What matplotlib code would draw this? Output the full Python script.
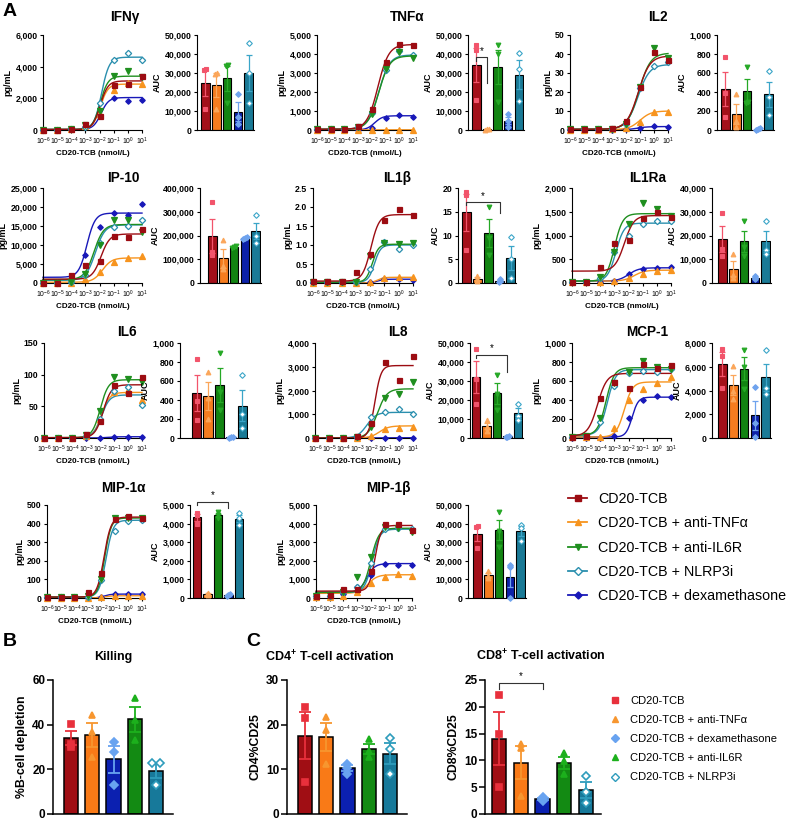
import numpy as np
import matplotlib
matplotlib.use("Agg")
from matplotlib import pyplot as plt
from matplotlib.lines import Line2D
from matplotlib.ticker import FuncFormatter, MultipleLocator, NullLocator

plt.rcParams['font.family'] = ['Liberation Sans', 'DejaVu Sans']
plt.rcParams['mathtext.fontset'] = 'custom'
plt.rcParams['mathtext.rm'] = 'Liberation Sans'
plt.rcParams['mathtext.bf'] = 'Liberation Sans:bold'

W, H = 792, 824

CONC = [1e-6, 1e-5, 1e-4, 1e-3, 1e-2, 1e-1, 1e0, 1e1]
CONC_LABELS = [r'$10^{-6}$', r'$10^{-5}$', r'$10^{-4}$', r'$10^{-3}$',
               r'$10^{-2}$', r'$10^{-1}$', r'$10^{0}$', r'$10^{1}$']

LABELS = {
    "tcb": "CD20-TCB",
    "tnf": "CD20-TCB + anti-TNFα",
    "il6r": "CD20-TCB + anti-IL6R",
    "nlrp3": "CD20-TCB + NLRP3i",
    "dex": "CD20-TCB + dexamethasone",
}
LEGEND_A_ORDER = ["tcb", "tnf", "il6r", "nlrp3", "dex"]
DRAW_ORDER = ["dex", "tnf", "nlrp3", "il6r", "tcb"]
BAR_ORDER_A = ["tcb", "tnf", "il6r", "dex", "nlrp3"]
BAR_ORDER_BC = ["tcb", "tnf", "dex", "il6r", "nlrp3"]
LEGEND_C_ORDER = ["tcb", "tnf", "dex", "il6r", "nlrp3"]

# mean cytokine level per concentration (pg/mL)
IFNG_PTS = {"tcb": [30, 30, 50, 400, 900, 2850, 2900, 3400],
            "tnf": [30, 30, 40, 250, 1000, 2500, 2950, 2900],
            "il6r": [30, 30, 50, 300, 1200, 3400, 3750, 3350],
            "nlrp3": [30, 30, 50, 200, 1700, 4400, 4850, 4400],
            "dex": [30, 30, 40, 200, 900, 2050, 1850, 1900]}
TNF_PTS = {"tcb": [40, 40, 40, 200, 1100, 3600, 4550, 4450],
           "tnf": [0, 0, 0, 0, 10, 10, 10, 10],
           "il6r": [40, 40, 40, 150, 850, 3200, 4100, 3800],
           "nlrp3": [40, 40, 40, 150, 900, 3150, 4150, 3950],
           "dex": [0, 0, 0, 0, 100, 650, 800, 700]}
IL2_PTS = {"tcb": [0.3, 0.3, 0.3, 0.8, 4.5, 22.5, 41, 37],
           "tnf": [0.2, 0.2, 0.2, 0.3, 0.8, 4, 9.5, 9.5],
           "il6r": [0.3, 0.3, 0.3, 0.6, 3, 22.5, 43, 38],
           "nlrp3": [0.3, 0.3, 0.3, 0.5, 3, 22, 33.5, 36],
           "dex": [0.1, 0.1, 0.1, 0.1, 0.3, 1.2, 2, 1.5]}
IP10_PTS = {"tcb": [0, 0, 2000, 4700, 5700, 12300, 12100, 14200],
            "tnf": [0, 0, 0, 1100, 2900, 5600, 6500, 7000],
            "il6r": [0, 0, 300, 2500, 10000, 16600, 16600, 13500],
            "nlrp3": [0, 0, 300, 2000, 10500, 14700, 15000, 16600],
            "dex": [0, 0, 300, 7300, 14800, 18500, 17900, 20900]}
IL1B_PTS = {"tcb": [0.05, 0.05, 0.05, 0.3, 0.76, 1.67, 1.95, 1.78],
            "tnf": [0, 0, 0, 0, 0.02, 0.12, 0.15, 0.15],
            "il6r": [0.02, 0.02, 0.02, 0.03, 0.7, 1.05, 1.03, 1.05],
            "nlrp3": [0.02, 0.02, 0.02, 0.02, 0.38, 1.07, 0.9, 1.0],
            "dex": [0, 0, 0, 0, 0.02, 0.1, 0.1, 0.08]}
IL1RA_PTS = {"tcb": [30, 30, 330, 850, 910, 1370, 1500, 1400],
             "tnf": [30, 30, 30, 40, 100, 180, 250, 280],
             "il6r": [30, 30, 120, 650, 1250, 1680, 1550, 1420],
             "nlrp3": [30, 30, 100, 660, 990, 1250, 1300, 1300],
             "dex": [30, 30, 30, 50, 200, 300, 310, 340]}
IL6_PTS = {"tcb": [0.5, 0.5, 0.5, 7, 27, 83, 71, 97],
           "tnf": [0.5, 0.5, 0.5, 3, 30, 72, 76, 60],
           "il6r": [0.5, 0.5, 0.5, 5, 42, 97, 93, 88],
           "nlrp3": [0.5, 0.5, 0.5, 3, 30, 75, 80, 52],
           "dex": [0, 0, 0, 0, 0, 2, 2, 2]}
IL8_PTS = {"tcb": [0, 0, 0, 100, 650, 3200, 2450, 3450],
           "tnf": [0, 0, 0, 0, 100, 400, 440, 480],
           "il6r": [0, 0, 0, 50, 450, 1700, 1850, 2350],
           "nlrp3": [0, 0, 0, 30, 880, 1100, 1230, 1000],
           "dex": [0, 0, 0, 0, 10, 10, 10, 10]}
MCP1_PTS = {"tcb": [10, 20, 420, 590, 525, 780, 740, 770],
            "tnf": [10, 10, 10, 110, 400, 520, 580, 640],
            "il6r": [10, 20, 210, 580, 690, 810, 745, 730],
            "nlrp3": [10, 20, 170, 550, 680, 705, 700, 730],
            "dex": [5, 5, 5, 20, 210, 400, 440, 430]}
MIP1A_PTS = {"tcb": [3, 3, 3, 30, 135, 425, 440, 430],
             "tnf": [0, 0, 0, 0, 5, 10, 12, 12],
             "il6r": [3, 3, 3, 10, 100, 430, 430, 430],
             "nlrp3": [3, 3, 3, 5, 95, 360, 415, 420],
             "dex": [0, 0, 0, 0, 5, 22, 20, 20]}
MIP1B_PTS = {"tcb": [100, 150, 500, 500, 1450, 4000, 4000, 3650],
             "tnf": [50, 50, 100, 300, 800, 1150, 1280, 1200],
             "il6r": [100, 150, 300, 1150, 2200, 3800, 3750, 3550],
             "nlrp3": [100, 100, 300, 600, 1900, 3700, 3750, 3700],
             "dex": [100, 100, 200, 600, 1250, 1850, 1800, 1800]}

# 4PL fit: (bottom, top, logEC50, hill)
IFNG_FIT = {"tcb": (30, 3100, -1.95, 1.6), "tnf": (30, 2900, -1.95, 1.6),
            "il6r": (30, 3400, -1.95, 1.6), "nlrp3": (30, 4600, -1.86, 1.6),
            "dex": (30, 2050, -1.9, 1.6)}
TNF_FIT = {"tcb": (40, 4500, -1.56, 1.1), "tnf": (0, 10, -2.0, 1.0),
           "il6r": (40, 3900, -1.5, 1.1), "nlrp3": (40, 3950, -1.5, 1.1),
           "dex": (0, 750, -1.8, 1.5)}
IL2_FIT = {"tcb": (0.4, 39, -1.13, 1.05), "tnf": (0.2, 10, -1.0, 1.1),
           "il6r": (0.4, 40.5, -1.08, 1.05), "nlrp3": (0.4, 34.5, -1.15, 1.05),
           "dex": (0.1, 1.8, -1.2, 1.2)}
IP10_FIT = {"tcb": (1000, 12900, -1.9, 1.4), "tnf": (200, 6600, -1.8, 1.3),
            "il6r": (900, 15400, -2.4, 1.3), "nlrp3": (700, 15300, -2.3, 1.3),
            "dex": (1500, 18400, -2.9, 1.5)}
IL1B_FIT = {"tcb": (0.05, 1.8, -1.95, 1.5), "tnf": (0.0, 0.15, -1.5, 2.0),
            "il6r": (0.02, 1.02, -1.85, 2.0), "nlrp3": (0.02, 1.0, -1.7, 2.0),
            "dex": (0.0, 0.1, -1.5, 2.0)}
IL1RA_FIT = {"tcb": (250, 1420, -2.3, 1.3), "tnf": (40, 270, -1.6, 1.2),
             "il6r": (40, 1460, -3.0, 1.5), "nlrp3": (40, 1260, -2.9, 1.5),
             "dex": (40, 320, -2.0, 1.2)}
IL6_FIT = {"tcb": (0.5, 84, -1.77, 1.5), "tnf": (0.5, 72, -1.9, 1.5),
           "il6r": (0.5, 92, -1.98, 1.5), "nlrp3": (0.5, 68, -1.9, 1.5),
           "dex": (0, 2, -1.5, 1.5)}
IL8_FIT = {"tcb": (0, 3050, -1.72, 2.0), "tnf": (0, 510, -1.4, 1.3),
           "il6r": (0, 2070, -1.55, 1.3), "nlrp3": (0, 1080, -2.3, 1.3),
           "dex": (0, 10, -1.5, 1.3)}
MCP1_FIT = {"tcb": (20, 680, -4.2, 1.3), "tnf": (10, 590, -2.3, 1.5),
            "il6r": (30, 740, -3.6, 1.5), "nlrp3": (30, 720, -3.5, 1.5),
            "dex": (10, 430, -1.75, 2.0)}
MIP1A_FIT = {"tcb": (5, 435, -1.8, 1.7), "tnf": (0, 12, -1.8, 1.5),
             "il6r": (5, 430, -1.75, 1.8), "nlrp3": (5, 418, -1.65, 1.7),
             "dex": (0, 21, -1.8, 1.8)}
MIP1B_FIT = {"tcb": (370, 3900, -1.7, 2.0), "tnf": (250, 1250, -2.2, 1.3),
             "il6r": (300, 3750, -2.0, 1.5), "nlrp3": (300, 3700, -1.9, 1.6),
             "dex": (300, 1850, -2.3, 1.5)}

# AUC per donor (n=3)
IFNG_AUC = {"tcb": [32000, 31500, 11000], "tnf": [30000, 29500, 11000],
            "il6r": [34000, 33500, 14000], "dex": [19000, 7000, 3200],
            "nlrp3": [46000, 30000, 14000]}
TNF_AUC = {"tcb": [44500, 42000, 16000], "tnf": [300, 200, 400],
           "il6r": [44500, 40000, 15000], "dex": [8500, 5000, 1500],
           "nlrp3": [40400, 32000, 15200]}
IL2_AUC = {"tcb": [770, 388, 138], "tnf": [380, 100, 30],
           "il6r": [660, 290, 280], "dex": [25, 15, 5],
           "nlrp3": [620, 350, 160]}
IP10_AUC = {"tcb": [341000, 130000, 119000], "tnf": [180000, 70000, 60000],
            "il6r": [155000, 152000, 149000], "dex": [193000, 190000, 187000],
            "nlrp3": [288000, 200000, 169000]}
IL1B_AUC = {"tcb": [19.1, 18.5, 7.0], "tnf": [1.5, 0.8, 0.4],
            "il6r": [16, 9.5, 6], "dex": [0.9, 0.4, 0.2],
            "nlrp3": [9.6, 5, 1]}
IL1RA_AUC = {"tcb": [29500, 14500, 11500], "tnf": [12300, 3500, 2200],
             "il6r": [26300, 15000, 11200], "dex": [3000, 2200, 1700],
             "nlrp3": [26300, 14000, 12200]}
IL6_AUC = {"tcb": [830, 390, 190], "tnf": [700, 420, 200],
           "il6r": [900, 480, 300], "dex": [15, 10, 5],
           "nlrp3": [660, 250, 110]}
IL8_AUC = {"tcb": [47000, 31000, 18000], "tnf": [9500, 6000, 3500],
           "il6r": [33000, 23000, 14500], "dex": [1200, 700, 500],
           "nlrp3": [18000, 11500, 9500]}
MCP1_AUC = {"tcb": [7500, 6900, 4200], "tnf": [6100, 4000, 3250],
            "il6r": [7400, 6000, 4150], "dex": [4300, 1300, 100],
            "nlrp3": [7400, 4200, 3700]}
MIP1A_AUC = {"tcb": [4550, 4450, 4000], "tnf": [280, 230, 150],
             "il6r": [4600, 4450, 4300], "dex": [200, 150, 100],
             "nlrp3": [4550, 4300, 3900]}
MIP1B_AUC = {"tcb": [38500, 38000, 27000], "tnf": [14500, 12000, 11000],
             "il6r": [46000, 36000, 27500], "dex": [17800, 16500, 200],
             "nlrp3": [39500, 37500, 30500]}

KILLING = {"tcb": [40.5, 31.5, 30], "tnf": [44.3, 36.5, 25.4],
           "dex": [32.4, 27.9, 13], "il6r": [52.1, 42, 33.1],
           "nlrp3": [22.7, 22.7, 13]}
CD4_ACT = {"tcb": [24, 21.6, 7.1], "tnf": [21.8, 18.9, 11.2],
           "dex": [11.3, 10.3, 9], "il6r": [16.8, 14.2, 12.8],
           "nlrp3": [17, 14.5, 9]}
CD8_ACT = {"tcb": [22.2, 14.9, 5.1], "tnf": [13.1, 12.3, 3.4],
           "dex": [3.1, 2.7, 2.4], "il6r": [11.3, 9.8, 7.4],
           "nlrp3": [7.1, 4.1, 2]}

# significance brackets: (bar i, bar j, top, left end, right end)
TNF_SIG = (0, 1, 38300, 36500, 25000)
IL1B_SIG = (0, 3, 17.0, 16.4, 14.7)
IL8_SIG = (0, 3, 43900, 42300, 34700)
MIP1A_SIG = (0, 3, 5180, 5000, 4820)
CD8_SIG = (0, 2, 24.5, 23.3, 23.3)

LINE_COL = {"tcb": "#9c0c12", "tnf": "#f7941e", "il6r": "#1f8f1f",
            "nlrp3": "#2a8fae", "dex": "#1818b8"}
BAR_COL = {"tcb": "#a3101a", "tnf": "#f57c1f", "il6r": "#128412",
           "dex": "#0c21a8", "nlrp3": "#1a7a96"}
PT_COL = {"tcb": "#f2546b", "tnf": "#fba65a", "il6r": "#25a825",
          "dex": "#6fa3ee", "nlrp3": "#3aa5c8"}
MARK = {"tcb": "s", "tnf": "^", "il6r": "v", "nlrp3": "D", "dex": "D"}
MSIZE = {"tcb": 3.6, "tnf": 3.8, "il6r": 3.8, "nlrp3": 3.2, "dex": 2.8}

BC_BAR = {"tcb": "#a00e14", "tnf": "#f97a17", "dex": "#0b20b0",
          "il6r": "#138a13", "nlrp3": "#17799a"}
BC_PT = {"tcb": "#e8303c", "tnf": "#f7962f", "dex": "#68a3f0",
         "il6r": "#1cb01c", "nlrp3": "#2e9cbc"}
BC_MARK = {"tcb": "s", "tnf": "^", "dex": "D", "il6r": "^", "nlrp3": "D"}

fig = plt.figure(figsize=(W / 100, H / 100), dpi=100)


def px_axes(left, top, right, bottom):
    return fig.add_axes([left / W, 1 - bottom / H, (right - left) / W, (bottom - top) / H])


def fmt(step):
    if step < 1:
        return FuncFormatter(lambda v, p: "%.1f" % v)
    return FuncFormatter(lambda v, p: "{:,.0f}".format(v))


def style_axis(ax, ymax, ystep, size, lw, tlen):
    for s in ("top", "right"):
        ax.spines[s].set_visible(False)
    for s in ("left", "bottom"):
        ax.spines[s].set_linewidth(lw)
    ax.set_ylim(0, ymax)
    ax.yaxis.set_major_locator(MultipleLocator(ystep))
    ax.yaxis.set_major_formatter(fmt(ystep))
    ax.tick_params(axis="y", labelsize=size, width=lw, length=tlen, pad=1.5)
    for t in ax.get_yticklabels():
        t.set_fontweight("bold")


def line_panel(pos, pts, fit, ymax, ystep):
    ax = px_axes(*pos)
    xs = np.logspace(-6, 1, 300)
    for key in DRAW_ORDER:
        b, t, l, h = fit[key]
        curve = b + (t - b) / (1 + 10 ** ((l - np.log10(xs)) * h))
        ax.plot(xs, curve, color=LINE_COL[key], lw=1.0, zorder=2, clip_on=False)
        face = "white" if key == "nlrp3" else LINE_COL[key]
        ax.plot(CONC, pts[key], ls="none", marker=MARK[key], ms=MSIZE[key],
                mfc=face, mec=LINE_COL[key], mew=0.9, zorder=3, clip_on=False)
    ax.set_xscale("log")
    ax.set_xlim(1e-6, 1e1)
    ax.set_xticks(CONC)
    ax.set_xticklabels(CONC_LABELS)
    ax.xaxis.set_minor_locator(NullLocator())
    ax.tick_params(axis="x", labelsize=4.9, width=0.8, length=2.5, pad=1.5)
    style_axis(ax, ymax, ystep, 6.3, 0.8, 2.5)
    ax.set_ylabel("pg/mL", fontsize=6.5, fontweight="bold", labelpad=2)
    ax.set_xlabel("CD20-TCB (nmol/L)", fontsize=5.8, fontweight="bold", labelpad=2)
    return ax


def spread(vals, ymax, dx, tol):
    # side-by-side placement only for points that would sit on top of each other
    vals = np.asarray(vals, dtype=float)
    offs = np.zeros(len(vals))
    order = np.argsort(vals)
    clusters = [[order[0]]]
    for k in order[1:]:
        if vals[k] - vals[clusters[-1][-1]] < tol * ymax:
            clusters[-1].append(k)
        else:
            clusters.append([k])
    for c in clusters:
        n = len(c)
        for m, k in enumerate(c):
            offs[k] = (m - (n - 1) / 2) * dx
    return offs


def bar_panel(geom, data, order, bar_col, pt_col, marks, ymax, ystep, ylabel,
              width=0.8, tail=0.1, big=False, sig=None):
    spine, b_left, b_right, top, bottom = geom
    unit = (b_right - b_left) / (len(order) - 1 + width)
    x0 = -width / 2 - (b_left - spine) / unit
    x1 = len(order) - 1 + width / 2 + tail
    ax = px_axes(spine, top, b_right + tail * unit, bottom)
    lw = 1.1 if big else 0.8
    for i, key in enumerate(order):
        vals = np.asarray(data[key], dtype=float)
        mean = vals.mean()
        sem = vals.std(ddof=1) / np.sqrt(len(vals))
        ax.bar(i, mean, width=width, color=bar_col[key], edgecolor="black",
               linewidth=lw, zorder=2)
        ax.errorbar(i, mean, yerr=sem, color=pt_col[key], capsize=4 if big else 2.2,
                    elinewidth=1.3 if big else 0.9, capthick=1.3 if big else 0.9, zorder=3)
        if big:
            offs = spread(vals, ymax, 0.4, 0.006)
        else:
            offs = spread(vals, ymax, 0.16, 0.012)
        face = "white" if key == "nlrp3" else pt_col[key]
        ms = (4.6 if big else 3.4) * (0.85 if marks[key] == "D" else 1.0)
        ax.plot(i + offs, vals, ls="none", marker=marks[key], ms=ms, mfc=face,
                mec=pt_col[key], mew=1.2 if big else 0.8, zorder=4, clip_on=False)
    ax.set_xlim(x0, x1)
    ax.set_xticks([])
    style_axis(ax, ymax, ystep, 8.5 if big else 6.3, lw, 4 if big else 2.5)
    ax.set_ylabel(ylabel, fontsize=8.8 if big else 6.5, fontweight="bold",
                  labelpad=3 if big else 2)
    if sig is not None:
        i, j, y, yl, yr = sig
        ax.plot([i, i, j, j], [yl, y, y, yr], color="#333333", lw=0.8,
                clip_on=False, zorder=5)
        ax.text((i + j) / 2, y + 0.012 * ymax, "*", ha="center", va="bottom",
                fontsize=7, clip_on=False)
    return ax


def title(x, y, s, size=9.8):
    fig.text(x / W, 1 - y / H, s, ha="center", va="center", fontsize=size,
             fontweight="bold")


# ---- panel A: cytokine curves and AUC bars
A_PANELS = [
    ("IFNγ", (125, 17), IFNG_PTS, IFNG_FIT, IFNG_AUC, (43, 35, 142, 130), 6000, 2000,
     (197, 201, 253, 35, 130), 50000, 10000, None),
    ("TNFα", (407, 17), TNF_PTS, TNF_FIT, TNF_AUC, (317, 35, 413, 130), 5000, 1000,
     (468, 472, 523, 35, 130), 50000, 10000, TNF_SIG),
    ("IL2", (658, 17), IL2_PTS, IL2_FIT, IL2_AUC, (570, 35, 668, 130), 50, 10,
     (717, 721, 773, 35, 130), 1000, 200, None),
    ("IP-10", (123, 178), IP10_PTS, IP10_FIT, IP10_AUC, (43, 188, 142, 283), 25000, 5000,
     (200, 208, 260, 188, 283), 400000, 100000, None),
    ("IL1β", (397, 178), IL1B_PTS, IL1B_FIT, IL1B_AUC, (313, 188, 413, 283), 2.5, 0.5,
     (458, 462, 515, 188, 283), 20, 5, IL1B_SIG),
    ("IL1Ra", (648, 178), IL1RA_PTS, IL1RA_FIT, IL1RA_AUC, (572, 188, 671, 283), 2000, 500,
     (712, 718, 770, 188, 283), 40000, 10000, None),
    ("IL6", (127, 332), IL6_PTS, IL6_FIT, IL6_AUC, (44, 343, 142, 438), 150, 50,
     (180, 192, 247, 343, 438), 1000, 200, None),
    ("IL8", (398, 332), IL8_PTS, IL8_FIT, IL8_AUC, (315, 343, 413, 438), 4000, 1000,
     (470, 472, 522, 343, 438), 50000, 10000, IL8_SIG),
    ("MCP-1", (647, 332), MCP1_PTS, MCP1_FIT, MCP1_AUC, (572, 343, 671, 438), 1000, 200,
     (712, 718, 770, 343, 438), 8000, 2000, None),
    ("MIP-1α", (123, 488), MIP1A_PTS, MIP1A_FIT, MIP1A_AUC, (47, 505, 142, 598), 500, 100,
     (190, 193, 243, 505, 598), 5000, 1000, MIP1A_SIG),
    ("MIP-1β", (388, 488), MIP1B_PTS, MIP1B_FIT, MIP1B_AUC, (316, 505, 412, 598), 5000, 1000,
     (468, 473, 525, 505, 598), 50000, 10000, None),
]

for (name, tpos, pts, fit, auc, lpos, lmax, lstep, bgeom, bmax, bstep, sig) in A_PANELS:
    line_panel(lpos, pts, fit, lmax, lstep)
    bar_panel(bgeom, auc, BAR_ORDER_A, BAR_COL, PT_COL, MARK, bmax, bstep, "AUC", sig=sig)
    title(tpos[0], tpos[1], name)

handles_a = []
for key in LEGEND_A_ORDER:
    face = "white" if key == "nlrp3" else LINE_COL[key]
    handles_a.append(Line2D([], [], color=LINE_COL[key], lw=1.3, marker=MARK[key],
                            ms=MSIZE[key] + 0.8, mfc=face, mec=LINE_COL[key], mew=1.0))
fig.legend(handles_a, [LABELS[k] for k in LEGEND_A_ORDER], loc="upper left",
           bbox_to_anchor=(568 / W, 1 - 492 / H), frameon=False, fontsize=10.3,
           handlelength=1.35, handletextpad=0.75, labelspacing=0.72,
           borderpad=0, borderaxespad=0)

# ---- panels B and C
bar_panel((53, 64, 163, 680, 814), KILLING, BAR_ORDER_BC, BC_BAR, BC_PT, BC_MARK,
          60, 20, "%B-cell depletion", width=0.66, tail=0.45, big=True)
bar_panel((287, 298, 397, 680, 814), CD4_ACT, BAR_ORDER_BC, BC_BAR, BC_PT, BC_MARK,
          30, 10, "CD4%CD25", width=0.66, tail=0.45, big=True)
bar_panel((485, 492, 593, 680, 814), CD8_ACT, BAR_ORDER_BC, BC_BAR, BC_PT, BC_MARK,
          25, 5, "CD8%CD25", width=0.66, tail=0.35, big=True, sig=CD8_SIG)

title(113, 657, "Killing", 9)
title(330, 657, r"CD4$^{\mathbf{+}}$ T-cell activation", 9)
title(541, 656, r"CD8$^{\mathbf{+}}$ T-cell activation", 9)

handles_c = []
for key in LEGEND_C_ORDER:
    face = "white" if key == "nlrp3" else BC_PT[key]
    handles_c.append(Line2D([], [], ls="none", marker=BC_MARK[key], ms=4.2,
                            mfc=face, mec=BC_PT[key], mew=1.0))
fig.legend(handles_c, [LABELS[k] for k in LEGEND_C_ORDER], loc="upper left",
           bbox_to_anchor=(609 / W, 1 - 696 / H), frameon=False, fontsize=8,
           handlelength=1.0, handletextpad=0.9, labelspacing=0.82,
           borderpad=0, borderaxespad=0)

for letter, x, y in (("A", 3, 12), ("B", 3, 641), ("C", 246, 641)):
    fig.text(x / W, 1 - y / H, letter, ha="left", va="center", fontsize=14,
             fontweight="bold")

fig.savefig("out.png", dpi=100)
